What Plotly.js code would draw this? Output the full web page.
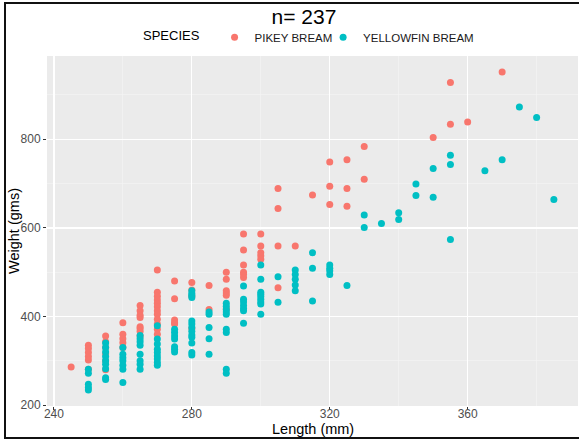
<!DOCTYPE html>
<html>
<head>
<meta charset="utf-8">
<script src="https://cdn.plot.ly/plotly-3.0.1.min.js"></script>
<style>
  html, body { margin: 0; padding: 0; background: #fff; }
  #wrap { position: relative; width: 579px; height: 439px; overflow: hidden; }
  #chart { position: absolute; left: 0; top: 0; width: 579px; height: 439px; }
  #frame { position: absolute; left: 4px; top: 2px; width: 580px; height: 433px;
           border: 2px solid #111; pointer-events: none; }
</style>
</head>
<body>
<div id="wrap"><div id="chart"></div><div id="frame"></div></div>
<script>
// Pikey bream: lengths (mm) and weights (g)
const pikeyLength = [
  245,
  250,250,250,250,250,250,
  255,255,255,255,255,255,
  260,260,260,260,260,
  265,265,265,265,265,265,265,265,
  270,270,270,270,270,270,270,270,270,270,270,270,
  275,275,275,275,275,
  280,280,280,280,
  285,285,
  290,290,290,290,290,290,
  295,295,295,295,295,295,
  300,300,300,300,300,
  305,305,305,305,
  310,
  315,
  320,320,320,
  325,325,325,
  330,330,
  350,
  355,355,
  360,
  370
];
const pikeyWeight = [
  286,
  335,328,319,310,302,281,
  356,343,330,316,300,280,
  386,360,350,341,330,
  425,413,403,398,377,373,367,356,
  505,455,446,437,430,422,413,405,394,383,371,360,
  480,440,392,386,383,
  477,460,446,373,
  470,416,
  500,484,458,453,448,417,
  586,550,516,500,495,488,
  586,559,544,537,529,
  689,644,559,465,
  559,
  674,
  749,694,653,
  754,689,649,
  784,710,
  804,
  928,834,
  839,
  952
];
// Yellowfin bream: lengths (mm) and weights (g)
const yellowLength = [
  250,250,250,250,250,
  255,255,255,255,255,255,255,255,255,
  260,260,260,260,260,260,260,
  265,265,265,265,265,265,265,265,
  270,270,270,270,270,270,270,270,270,
  275,275,275,275,275,275,275,
  280,280,280,280,280,280,280,280,280,280,280,280,280,
  285,285,285,285,285,
  290,290,290,290,290,290,290,290,290,
  295,295,295,295,295,295,295,
  300,300,300,300,300,300,300,300,300,
  305,305,
  310,310,310,310,310,
  315,315,315,
  320,320,320,320,
  325,
  330,330,
  335,
  340,340,
  345,345,
  350,350,
  355,355,355,
  365,
  370,
  375,
  380,
  385
];
const yellowWeight = [
  281,272,247,240,234,
  340,330,320,310,300,292,282,262,258,
  330,315,307,300,290,281,251,
  357,350,343,335,315,300,292,281,
  379,349,338,326,319,311,304,296,290,
  371,364,356,349,332,326,320,
  458,452,448,443,390,383,375,367,358,353,340,319,313,
  410,405,375,350,315,
  430,423,416,410,405,371,364,281,272,
  469,439,433,425,418,413,385,
  516,484,455,450,445,439,433,428,405,
  490,432,
  505,495,484,471,458,
  544,509,435,
  516,509,503,495,
  470,
  629,601,
  610,
  634,619,
  699,673,
  734,669,
  764,743,574,
  729,
  754,
  873,
  849,
  664
];
const seriesNames = ["PIKEY BREAM", "YELLOWFIN BREAM"];
const seriesColors = ["#F8766D", "#00BFC4"];
const xTicks = [240, 280, 320, 360];
const yTicks = [200, 400, 600, 800];
const chartTitle = "n= 237";
const xTitle = "Length (mm)";
const yTitle = "Weight (gms)";
const legendTitle = "SPECIES";

const font = "Liberation Sans, Arial, sans-serif";

const traces = [
  {x: pikeyLength, y: pikeyWeight, name: seriesNames[0], legend: "legend"},
  {x: yellowLength, y: yellowWeight, name: seriesNames[1], legend: "legend2"}
].map((t, i) => Object.assign(t, {
  type: "scatter", mode: "markers",
  marker: {color: seriesColors[i], size: 7, line: {width: 0}}
}));

const legendCommon = {
  orientation: "h", y: 1.012, yanchor: "bottom", xanchor: "left",
  xref: "paper", yref: "paper",
  font: {family: font, size: 11.5, color: "#1a1a1a"},
  bgcolor: "rgba(0,0,0,0)"
};

const layout = {
  width: 579, height: 439,
  margin: {l: 47, r: 1, t: 56, b: 33},
  paper_bgcolor: "#ffffff",
  plot_bgcolor: "#EBEBEB",
  font: {family: font, color: "#4D4D4D", size: 12},
  title: {text: chartTitle, x: 0.484, xref: "paper", xanchor: "center",
          y: 0.962, yref: "container", yanchor: "middle",
          font: {family: font, size: 21, color: "#000"}},
  showlegend: true,
  legend: Object.assign({}, legendCommon, {
    x: 0.177,
    title: {text: legendTitle + "\u00a0\u00a0", side: "left",
            font: {family: font, size: 13, color: "#000"}}
  }),
  legend2: Object.assign({}, legendCommon, {x: 0.52}),
  xaxis: {
    range: [238, 392], tickvals: xTicks, ticktext: xTicks.map(String),
    showgrid: true, gridcolor: "#ffffff", gridwidth: 1.2,
    minor: {dtick: 20, tick0: 240, showgrid: true, gridcolor: "#F5F5F5", gridwidth: 0.6},
    zeroline: false, showline: false,
    ticks: "outside", ticklen: 3, tickcolor: "#333", tickwidth: 1,
    ticklabelstandoff: -6,
    tickfont: {family: font, size: 12, color: "#4D4D4D"},
    automargin: false
  },
  yaxis: {
    range: [198, 988], tickvals: yTicks, ticktext: yTicks.map(String),
    showgrid: true, gridcolor: "#ffffff", gridwidth: 1.2,
    minor: {dtick: 100, tick0: 200, showgrid: true, gridcolor: "#F5F5F5", gridwidth: 0.6},
    zeroline: false, showline: false,
    ticks: "outside", ticklen: 3, tickcolor: "#333", tickwidth: 1,
    tickfont: {family: font, size: 12, color: "#4D4D4D"},
    automargin: false
  },
  annotations: [
    {text: xTitle, xref: "paper", yref: "paper", x: 0.5, y: -0.066,
     xanchor: "center", yanchor: "middle", showarrow: false,
     font: {family: font, size: 14.5, color: "#000"}},
    {text: yTitle, xref: "paper", yref: "paper", x: -0.0622, y: 0.5,
     xanchor: "center", yanchor: "middle", showarrow: false, textangle: -90,
     font: {family: font, size: 14.5, color: "#000"}}
  ]
};

Plotly.newPlot("chart", traces, layout, {staticPlot: true, displayModeBar: false});
</script>
</body>
</html>
